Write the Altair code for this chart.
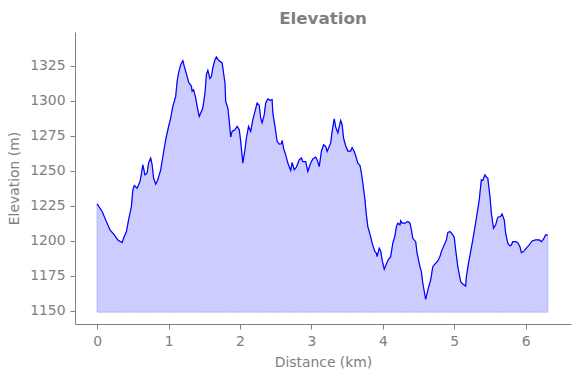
import altair as alt
import pandas as pd

distance = [0.00, 0.07, 0.13, 0.18, 0.24, 0.29, 0.35, 0.37, 0.41, 0.44, 0.48, 0.50, 0.52, 0.56,
            0.60, 0.62, 0.64, 0.67, 0.70, 0.72, 0.75, 0.77, 0.79, 0.82, 0.85, 0.89, 0.92, 0.96,
            0.99, 1.03, 1.06, 1.10, 1.12, 1.14, 1.17, 1.20, 1.22, 1.26, 1.28, 1.32, 1.33, 1.35,
            1.38, 1.40, 1.43,
            1.48, 1.51, 1.53, 1.55, 1.58, 1.60, 1.62, 1.65, 1.67, 1.70, 1.75, 1.79, 1.80, 1.83,
            1.85, 1.87, 1.89, 1.93, 1.96, 1.99, 2.01, 2.04, 2.07, 2.09, 2.12, 2.15, 2.18, 2.21,
            2.24, 2.27, 2.29, 2.31, 2.34, 2.36, 2.39, 2.42, 2.45, 2.46, 2.49, 2.52, 2.55, 2.58,
            2.59, 2.61, 2.64, 2.67, 2.71, 2.73, 2.76, 2.79, 2.83, 2.86, 2.88, 2.92,
            2.95, 2.99, 3.02, 3.06, 3.08, 3.11, 3.14, 3.17, 3.20, 3.22, 3.25, 3.27, 3.29, 3.32,
            3.34, 3.37, 3.41, 3.43, 3.45, 3.48, 3.51, 3.55, 3.57, 3.60, 3.63, 3.65, 3.68, 3.70,
            3.72, 3.75, 3.77, 3.79, 3.83, 3.85, 3.89, 3.91, 3.92, 3.95, 3.97, 3.99, 4.02, 4.05,
            4.08, 4.11, 4.14,
            4.17, 4.19, 4.21, 4.24, 4.25, 4.27, 4.31, 4.35, 4.38, 4.40, 4.42, 4.46, 4.48, 4.52,
            4.54, 4.56, 4.60, 4.62, 4.64, 4.67, 4.70, 4.74, 4.77, 4.80, 4.82, 4.86, 4.89, 4.91,
            4.94, 4.97, 5.00, 5.02, 5.05, 5.09, 5.12, 5.16, 5.17, 5.20,
            5.26, 5.31, 5.35, 5.38, 5.40, 5.43, 5.45, 5.47, 5.50, 5.52, 5.55, 5.58, 5.61, 5.65,
            5.67, 5.70, 5.72, 5.75, 5.78, 5.80, 5.82, 5.86, 5.89, 5.92, 5.94, 5.97, 6.01, 6.05,
            6.09, 6.14, 6.19, 6.22, 6.25, 6.28, 6.31]

elevation = [1226.3, 1220.8, 1213.6, 1207.7, 1204.1, 1200.5, 1198.6, 1201.7, 1206.5, 1214.8,
             1224.4, 1236.3, 1239.4, 1237.5, 1242.2, 1247.7, 1254.2, 1247.0, 1248.3, 1255.4,
             1259.0, 1254.2, 1244.7, 1240.4, 1243.5, 1250.6, 1260.1, 1272.1, 1279.2, 1287.6,
             1295.9, 1303.0, 1313.8, 1319.8, 1325.7, 1328.6, 1324.5, 1317.3, 1313.3, 1310.2,
             1306.6, 1307.8, 1301.9, 1295.9, 1288.7,
             1294.7, 1305.5, 1318.6, 1321.6, 1315.7, 1317.3, 1323.3, 1329.3, 1331.2, 1328.8,
             1326.9, 1312.6, 1299.5, 1294.7, 1285.2, 1274.0, 1278.0, 1279.2, 1281.6, 1279.2,
             1270.9, 1255.4, 1264.9, 1273.3, 1281.6, 1278.0, 1286.4, 1292.3, 1298.3, 1296.6,
             1287.6, 1284.0, 1290.0, 1298.3, 1301.2, 1300.2, 1300.7, 1291.2, 1281.6, 1270.9,
             1269.0, 1269.2, 1271.6, 1266.1, 1261.3, 1255.4, 1250.1, 1255.8, 1250.6, 1252.5,
             1257.8, 1259.0, 1256.5, 1256.5,
             1249.4, 1255.4, 1258.3, 1259.7, 1257.8, 1252.9, 1263.7, 1268.5, 1267.3, 1263.7,
             1267.3, 1269.7, 1278.0, 1286.9, 1281.2, 1276.9, 1285.9, 1282.8, 1273.3, 1267.8,
             1264.0, 1264.0, 1266.5, 1263.7, 1259.0, 1255.4, 1253.7, 1248.3, 1241.1, 1229.1,
             1218.4, 1210.0, 1202.9, 1198.2, 1192.2, 1191.0, 1188.6, 1194.6, 1192.7, 1186.2,
             1179.6, 1183.4, 1186.7, 1188.6, 1198.2,
             1203.5, 1210.0, 1212.5, 1211.3, 1214.3, 1212.5, 1212.5, 1213.7, 1212.5, 1207.7,
             1201.7, 1199.3, 1191.0, 1181.4, 1177.9, 1169.6, 1158.1, 1162.4, 1166.7, 1171.9,
             1181.4, 1183.9, 1185.5, 1188.6, 1192.2, 1197.0, 1200.5, 1205.8, 1206.5, 1204.8,
             1202.5, 1193.4, 1181.4, 1170.7, 1169.1, 1167.6, 1174.3, 1183.9,
             1200.5, 1216.0, 1229.1, 1243.5, 1243.0, 1247.0, 1245.4, 1244.7, 1231.5, 1219.6,
             1208.8, 1211.3, 1216.8, 1217.2, 1219.1, 1214.8, 1205.3, 1198.2, 1196.2, 1196.9,
             1199.3, 1199.3, 1198.6, 1195.7, 1191.5, 1192.2, 1194.6, 1197.0, 1199.8, 1200.5,
             1200.5, 1199.3, 1201.0, 1204.1, 1204.1]

fill_base = 1149.0
x_ticks = [0, 1, 2, 3, 4, 5, 6]
y_ticks = [1150, 1175, 1200, 1225, 1250, 1275, 1300, 1325]

df = pd.DataFrame({"distance": distance, "elevation": elevation})
df["base"] = fill_base

x_enc = alt.X("distance:Q",
              scale=alt.Scale(domain=[-0.31, 6.635], nice=False, zero=False),
              axis=alt.Axis(values=x_ticks, title="Distance (km)", format="d"))
y_enc = alt.Y("elevation:Q",
              scale=alt.Scale(domain=[1140.5, 1349], nice=False, zero=False),
              axis=alt.Axis(values=y_ticks, title="Elevation (m)", format="d"))

area = alt.Chart(df).mark_area(
    color="#ccccff", stroke="#b3b3ff", strokeWidth=1
).encode(x=x_enc, y=y_enc, y2="base:Q")

line = alt.Chart(df).mark_line(color="#0000ff", strokeWidth=1.2).encode(
    x="distance:Q", y="elevation:Q"
)

chart = alt.layer(area, line).properties(
    width=496,
    height=292,
    autosize="none",
    padding={"left": 75, "top": 32, "right": 9, "bottom": 54},
    title=alt.TitleParams(
        "Elevation", font="DejaVu Sans", fontSize=16.7, fontWeight="bold",
        color="gray", anchor="middle", offset=4
    ),
).configure_view(stroke=None).configure_axis(
    grid=False,
    domainColor="gray",
    tickColor="gray",
    labelColor="gray",
    titleColor="gray",
    labelFont="DejaVu Sans",
    titleFont="DejaVu Sans",
    labelFontSize=13.9,
    titleFontSize=13.9,
    titleFontWeight="normal",
    tickSize=5,
    labelPadding=5,
    domainWidth=1,
    tickWidth=1,
).configure_axisY(titlePadding=8).configure_axisX(titlePadding=8)

chart.save("out.html", embed_options={"renderer": "svg", "actions": False})
